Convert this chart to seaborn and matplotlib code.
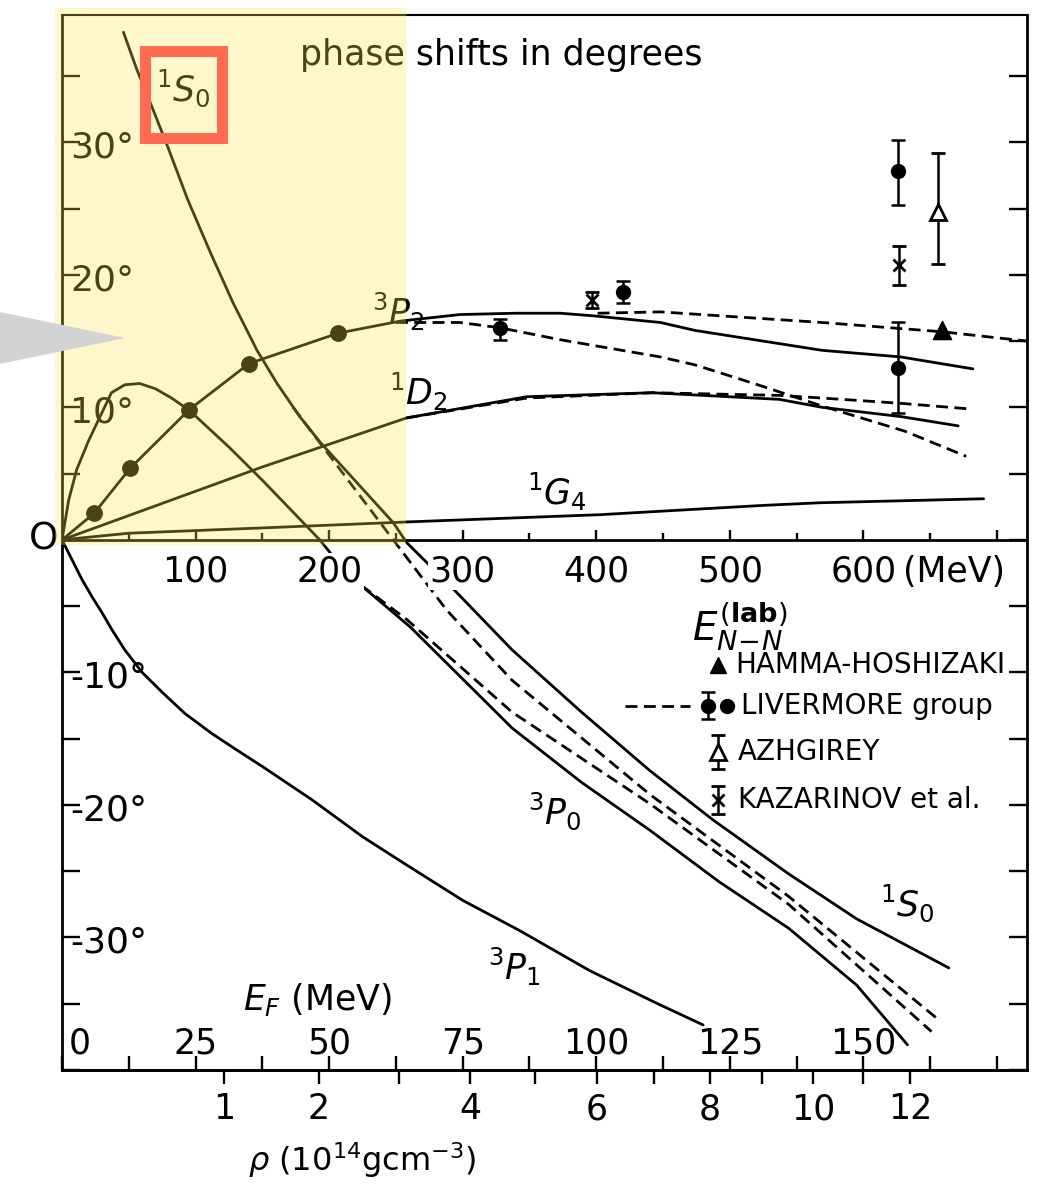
import numpy as np
import matplotlib
matplotlib.use("Agg")
import matplotlib.pyplot as plt
import seaborn as sns
from matplotlib.patches import Rectangle, Polygon
from matplotlib.ticker import MultipleLocator
from matplotlib.transforms import blended_transform_factory

# ---------------- data ----------------
# phase shifts (degrees) against nucleon-nucleon lab energy (MeV)
s0_E = [46, 56, 68, 79, 94, 111, 128, 146, 161, 178, 193, 248, 258, 291, 337, 389, 440, 487, 544, 595, 664]
s0_d = [38.3, 35.5, 32.5, 29.7, 25.7, 21.7, 17.9, 14.3, 11.8, 9.3, 7.4, 1.3, -0.2, -3.5, -8.3, -13.0, -17.4, -21.1, -25.2, -28.6, -32.3]
s0_dash_E = [173, 248, 288, 337, 440, 544, 655]
s0_dash_d = [10.0, 0.0, -5.3, -10.6, -19.2, -26.9, -36.1]

p0_E = [0, 5, 11, 20, 37, 47, 58, 70, 82, 95, 125, 150, 193, 213, 261, 337, 389, 440, 492, 544, 595, 633]
p0_d = [0, 3.0, 5.3, 7.5, 11.1, 11.7, 11.8, 11.4, 10.7, 9.8, 7.0, 4.5, 0.0, -2.5, -6.6, -14.2, -18.3, -21.9, -25.8, -29.3, -33.6, -38.1]
p0_dash_E = [213, 258, 337, 440, 544, 651]
p0_dash_d = [-2.6, -6.0, -13.0, -19.9, -27.5, -37.1]

p1_E = [0, 15, 22.5, 30, 37.5, 47, 60, 75, 92, 112, 130, 150, 187, 225, 256, 300, 343, 395, 446, 480]
p1_d = [0, -3.0, -4.3, -5.5, -6.8, -8.3, -10.0, -11.5, -13.1, -14.6, -15.8, -17.1, -19.6, -22.4, -24.4, -27.2, -29.5, -32.5, -35.0, -36.6]

p2_E = [0, 24, 51, 95, 140, 207, 253, 298, 340, 373, 398, 448, 474, 569, 628, 682]
p2_d = [0, 2.0, 5.4, 9.8, 13.3, 15.6, 16.5, 17.0, 17.1, 17.1, 16.9, 16.4, 15.8, 14.3, 13.8, 12.9]
p2_dash_lo_E = [250, 298, 328, 373, 448, 474, 521, 569, 631, 677]
p2_dash_lo_d = [16.4, 16.4, 16.0, 15.1, 13.8, 13.2, 11.7, 10.1, 8.2, 6.3]
p2_dash_hi_E = [401, 448, 569, 659, 722]
p2_dash_hi_d = [17.1, 17.2, 16.4, 15.7, 15.0]
p2_pts_E = [24, 51, 95, 140, 207]
p2_pts_d = [2.0, 5.4, 9.8, 13.3, 15.6]

d2_E = [0, 150, 258, 348, 442, 537, 569, 628, 671]
d2_d = [0, 5.5, 9.2, 10.8, 11.1, 10.6, 10.0, 9.3, 8.6]
d2_dash_E = [258, 348, 442, 537, 569, 628, 677]
d2_dash_d = [9.2, 10.7, 11.1, 10.9, 10.7, 10.3, 9.9]

g4_E = [0, 50, 150, 258, 403, 525, 568, 690]
g4_d = [0, 0.5, 0.9, 1.35, 1.9, 2.6, 2.8, 3.1]

# experimental points
liv_E = [328, 420, 626, 626]
liv_d = [16.0, 18.7, 27.8, 13.0]
liv_lo = [0.9, 0.8, 2.5, 3.4]
liv_hi = [0.7, 0.8, 2.4, 3.4]
kaz_E = [397, 627]
kaz_d = [18.1, 20.7]
kaz_err = [0.6, 1.5]
azh_E = [656]
azh_d = [24.7]
azh_lo = [3.9]
azh_hi = [4.5]
ham_E = [659]
ham_d = [15.8]

# tick labels
elab_labels = [100, 200, 300, 400, 500, 600]
ef_labels = [0, 25, 50, 75, 100, 125, 150]
rho_labels = [1, 2, 4, 6, 8, 10, 12]
rho_minor = [3, 5, 7, 9, 11]
deg_labels = [30, 20, 10, -10, -20, -30]
legend_names = ["HAMMA-HOSHIZAKI", "LIVERMORE group", "AZHGIREY", "KAZARINOV et al."]

# curve labels: text, E, delta
curve_texts = [r"$^{1}S_{0}$", r"$^{3}P_{2}$", r"$^{1}D_{2}$", r"$^{1}G_{4}$",
               r"$^{3}P_{0}$", r"$^{1}S_{0}$", r"$^{3}P_{1}$"]
curve_text_E = [90.6, 251.6, 266.5, 370.6, 369.0, 632.7, 339.0]
curve_text_d = [34.1, 17.2, 11.2, 3.6, -20.5, -27.4, -32.2]

# ---------------- styling ----------------
sns.set_theme(style="white")
plt.rcParams["font.family"] = ["DejaVu Sans"]
plt.rcParams["mathtext.fontset"] = "dejavusans"
for k in ["text.color", "axes.labelcolor", "xtick.color", "ytick.color", "axes.edgecolor"]:
    plt.rcParams[k] = "black"

W, H = 1055, 1186
fig = plt.figure(figsize=(W / 100, H / 100), dpi=100)
fig.patch.set_facecolor("white")
ax = fig.add_axes([62 / W, 1 - 1070 / H, 965 / W, 1055 / H])
ax.set_facecolor("white")
XMAX, YMIN, YMAX = 722.5, -40.0, 39.6
ax.set_xlim(0, XMAX)
ax.set_ylim(YMIN, YMAX)

LW = 2.0
DASH = (0, (4.3, 2.3))
NUM = 25


def line(E, d, dashed=False):
    sns.lineplot(x=E, y=d, ax=ax, color="black", lw=LW, sort=False, estimator=None,
                 linestyle=DASH if dashed else "-", zorder=3)


line(s0_E, s0_d)
line(s0_dash_E, s0_dash_d, True)
line(p0_E, p0_d)
line(p0_dash_E, p0_dash_d, True)
line(p1_E, p1_d)
line(p2_E, p2_d)
line(p2_dash_lo_E, p2_dash_lo_d, True)
line(p2_dash_hi_E, p2_dash_hi_d, True)
line(d2_E, d2_d)
line(d2_dash_E, d2_dash_d, True)
line(g4_E, g4_d)

sns.scatterplot(x=p2_pts_E, y=p2_pts_d, ax=ax, s=125, color="black", edgecolor="black", zorder=4)

EB = dict(color="black", elinewidth=1.8, capthick=1.8, capsize=5, ls="none", zorder=4)
ax.errorbar(liv_E, liv_d, yerr=[liv_lo, liv_hi], fmt="o", ms=10, **EB)
ax.errorbar(kaz_E, kaz_d, yerr=kaz_err, fmt="x", ms=8, mew=2.0, **EB)
ax.errorbar(azh_E, azh_d, yerr=[azh_lo, azh_hi], fmt="^", ms=11, mfc="white", mew=2.0, **EB)
sns.scatterplot(x=ham_E, y=ham_d, ax=ax, marker="^", s=170, color="black", edgecolor="black", zorder=4)
ax.set_xlabel("")
ax.set_ylabel("")

# zero line with energy ticks
ax.axhline(0, color="black", lw=2.0, zorder=2)
zt = np.arange(50, 701, 50)
ax.plot(zt[zt % 100 == 0], np.zeros(len(zt[zt % 100 == 0])), ls="none", marker=2, ms=7.5,
        mew=1.7, color="black", zorder=2)
ax.plot(zt[zt % 100 != 0], np.zeros(len(zt[zt % 100 != 0])), ls="none", marker=2, ms=5,
        mew=1.7, color="black", zorder=2)

# frame ticks
ax.xaxis.set_major_locator(MultipleLocator(50))
ax.yaxis.set_major_locator(MultipleLocator(5))
ax.tick_params(axis="x", which="both", bottom=True, top=False, direction="in", length=10,
               width=1.7, labelbottom=False)
ax.tick_params(axis="y", which="both", left=True, right=True, direction="in", length=13,
               width=1.7, labelleft=False)
for s in ax.spines.values():
    s.set_linewidth(2.0)
    s.set_color("black")
ax.spines["top"].set_linewidth(1.5)

# density axis (rho in 1e14 g/cm3), E_F = E_lab/4 = C * rho^(2/3)
C_F = 30.3


def lab_to_rho(E):
    E = np.asarray(E, dtype=float)
    return (np.clip(E, 0, None) / 4.0 / C_F) ** 1.5


def rho_to_lab(r):
    r = np.asarray(r, dtype=float)
    return 4.0 * C_F * np.clip(r, 0, None) ** (2.0 / 3.0)


sec = ax.secondary_xaxis("bottom", functions=(lab_to_rho, rho_to_lab))
sec.set_xticks(rho_labels, labels=[str(v) for v in rho_labels])
sec.set_xticks(rho_minor, minor=True)
sec.tick_params(which="both", direction="out", length=10, width=1.7, labelsize=NUM, pad=6,
                colors="black")
sec.spines["bottom"].set_linewidth(2.0)

# text labels
for v in elab_labels:
    ax.text(v, -2.4, str(v), ha="center", va="center", fontsize=NUM, zorder=5,
            bbox=dict(boxstyle="square,pad=0.05", fc="white", ec="none"))
ax.text(630, -2.4, "(MeV)", ha="left", va="center", fontsize=NUM, zorder=5)
ax.text(471.7, -7.6, r"$E_{N\!-\!N}^{(\mathbf{lab})}$", ha="left", va="baseline", fontsize=28)

for v in deg_labels:
    ax.text(6, v - 0.4, f"{v}°", ha="left", va="center", fontsize=NUM + 1, zorder=5)
ax.text(-2.5, 0, "O", ha="right", va="center", fontsize=27, clip_on=False)

for v in ef_labels:
    xpos = 4 * v if v else 13.5
    ax.text(xpos, -38.0, str(v), ha="center", va="center", fontsize=NUM, zorder=5)
ax.text(135.5, -34.7, r"$E_F$ (MeV)", ha="left", va="center", fontsize=NUM)
trans = blended_transform_factory(ax.transData, ax.transAxes)
ax.text(225, -0.0853, r"$\rho$ (10$^{14}$gcm$^{-3}$)", transform=trans, ha="center",
        va="center", fontsize=23, clip_on=False)

ax.text(178.3, 36.6, "phase shifts in degrees", ha="left", va="center", fontsize=25)

for t, e, d in zip(curve_texts, curve_text_E, curve_text_d):
    ax.text(e, d, t, ha="center", va="center", fontsize=25, zorder=5)

# legend (drawn by hand, as in the figure)
rows = [-9.43, -12.5, -16.0, -19.6]
ax.plot([491], [rows[0]], marker="^", ms=12, color="black", ls="none")
ax.plot([421.5, 470], [rows[1], rows[1]], color="black", lw=LW, ls=DASH)
ax.errorbar([483.7], [rows[1]], yerr=[1.0], fmt="o", ms=10, **EB)
ax.plot([498], [rows[1]], marker="o", ms=10, color="black", ls="none")
ax.errorbar([491], [rows[2]], yerr=[1.3], fmt="^", ms=11, mfc="white", mew=2.0, **EB)
ax.errorbar([491], [rows[3]], yerr=[1.05], fmt="x", ms=8, mew=2.0, **EB)
for name, r, xx in zip(legend_names, rows, [504, 508, 506, 506]):
    ax.text(xx, r, name, ha="left", va="center", fontsize=20)

# highlight overlay (tints everything beneath it like a marker pen)
ax.add_patch(Rectangle((-5.2, -0.38), 262.8, 40.5, facecolor=(253 / 255, 230 / 255, 84 / 255),
                       alpha=0.296, lw=0, zorder=10, clip_on=False))
ax.add_patch(Rectangle((62.2, 30.3), 57.6, 6.6, facecolor="none", edgecolor="#FF6A50",
                       lw=7.9, zorder=11, clip_on=False, joinstyle="miter"))
fig.patches.append(Polygon([(0, 1 - 312 / H), (125 / W, 1 - 338 / H), (0, 1 - 364 / H)],
                           closed=True, transform=fig.transFigure, facecolor="#D3D3D3",
                           edgecolor="none", zorder=12))

fig.savefig("out.png", dpi=100, facecolor="white")
